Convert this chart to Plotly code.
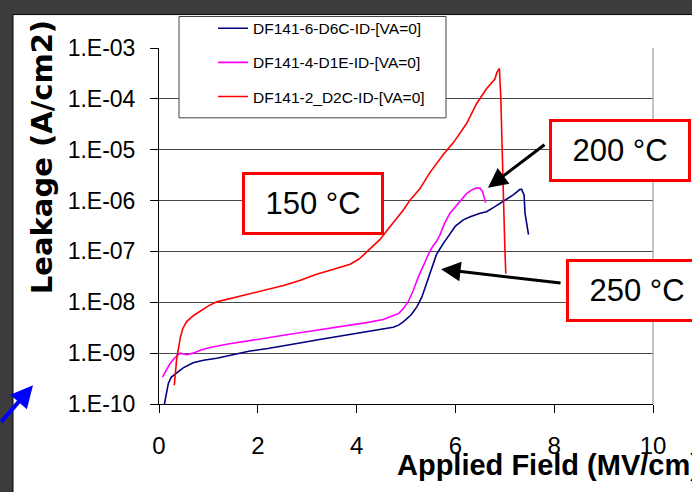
import plotly.graph_objects as go

# ---------------- data ----------------
blue_name = "DF141-6-D6C-ID-[VA=0]"
blue_x = [0.11, 0.15, 0.19, 0.25, 0.36, 0.49, 0.69, 0.9, 1.17, 1.5, 1.84, 2.2, 2.52, 2.85, 3.19,
          3.5, 3.87, 4.2, 4.54, 4.74, 4.85, 4.95, 5.1, 5.22, 5.32, 5.42, 5.52, 5.62, 5.75, 5.89,
          6.0, 6.16, 6.3, 6.5, 6.63, 6.8, 6.97, 7.17, 7.31, 7.34, 7.39, 7.41, 7.48]
blue_y = [1.0e-10, 1.78e-10, 2.57e-10, 3.39e-10, 4.17e-10, 5.13e-10, 6.46e-10, 7.24e-10, 7.94e-10,
          9.33e-10, 1.10e-9, 1.23e-9, 1.38e-9, 1.58e-9, 1.82e-9, 2.04e-9, 2.34e-9, 2.69e-9, 3.02e-9,
          3.24e-9, 3.55e-9, 4.17e-9, 5.62e-9, 8.13e-9, 1.26e-8, 2.40e-8, 5.01e-8, 8.91e-8, 1.41e-7,
          2.29e-7, 3.16e-7, 4.17e-7, 4.79e-7, 5.62e-7, 6.03e-7, 7.59e-7, 9.55e-7, 1.29e-6, 1.66e-6,
          1.66e-6, 1.29e-6, 5.62e-7, 2.14e-7]

magenta_name = "DF141-4-D1E-ID-[VA=0]"
magenta_x = [0.07, 0.15, 0.22, 0.32, 0.43, 0.56, 0.69, 0.85, 1.03, 1.4, 1.84, 2.2, 2.52, 2.85, 3.19,
             3.5, 3.87, 4.2, 4.54, 4.74, 4.85, 4.95, 5.05, 5.15, 5.25, 5.38, 5.47, 5.55, 5.62, 5.69,
             5.78, 5.89, 6.06, 6.23, 6.35, 6.43, 6.5, 6.55, 6.61]
magenta_y = [3.39e-10, 4.68e-10, 6.17e-10, 8.13e-10, 1.0e-9, 9.33e-10, 1.0e-9, 1.15e-9, 1.29e-9,
             1.51e-9, 1.74e-9, 2.0e-9, 2.24e-9, 2.51e-9, 2.82e-9, 3.16e-9, 3.47e-9, 3.98e-9, 4.57e-9,
             5.37e-9, 6.03e-9, 7.59e-9, 1.05e-8, 1.74e-8, 3.16e-8, 6.03e-8, 9.55e-8, 1.29e-7, 1.58e-7,
             2.14e-7, 3.55e-7, 5.62e-7, 8.71e-7, 1.38e-6, 1.66e-6, 1.78e-6, 1.74e-6, 1.51e-6, 9.12e-7]

red_name = "DF141-2_D2C-ID-[VA=0]"
red_x = [0.31, 0.33, 0.36, 0.40, 0.43, 0.48, 0.56, 0.7, 0.83, 1.0, 1.17, 1.5, 1.84, 2.2, 2.52, 2.85,
         3.19, 3.5, 3.87, 4.05, 4.2, 4.35, 4.47, 4.68, 4.95, 5.08, 5.28, 5.49, 5.76, 5.96, 6.23,
         6.43, 6.63, 6.80, 6.84, 6.89, 6.92, 6.96, 6.99, 7.00, 7.02]
red_y = [2.34e-10, 4.47e-10, 8.13e-10, 1.32e-9, 2.0e-9, 3.02e-9, 4.17e-9, 5.50e-9, 6.76e-9, 8.51e-9,
         1.02e-8, 1.23e-8, 1.48e-8, 1.78e-8, 2.14e-8, 2.69e-8, 3.55e-8, 4.37e-8, 5.62e-8, 7.08e-8,
         9.55e-8, 1.32e-7, 1.70e-7, 3.09e-7, 6.61e-7, 1.02e-6, 1.70e-6, 3.63e-6, 8.13e-6, 1.38e-5,
         3.31e-5, 8.13e-5, 1.58e-4, 2.45e-4, 3.31e-4, 3.98e-4, 1.02e-4, 3.31e-6, 5.62e-7, 1.29e-7,
         3.63e-8]

y_tickvals = [1e-10, 1e-9, 1e-8, 1e-7, 1e-6, 1e-5, 1e-4, 1e-3]
y_ticktext = ["1.E-10", "1.E-09", "1.E-08", "1.E-07", "1.E-06", "1.E-05", "1.E-04", "1.E-03"]
x_tickvals = [0, 2, 4, 6, 8, 10]

x_title = "Applied Field (MV/cm)"
y_title = "Leakage (A/cm2)"
temp_labels = ["150 °C", "200 °C", "250 °C"]

# ---------------- layout geometry ----------------
W, H = 692, 492
L, R, T, B = 159, 653, 42, 404


def px(p):
    return (p - L) / (R - L)


def py(p):
    return (B - p) / (B - T)


FONT = "Liberation Sans, Arial, sans-serif"

fig = go.Figure()
for name, xs, ys, col in [(blue_name, blue_x, blue_y, "#000080"),
                          (magenta_name, magenta_x, magenta_y, "#FF00FF"),
                          (red_name, red_x, red_y, "#FF0000")]:
    fig.add_trace(go.Scatter(x=xs, y=ys, mode="lines", name=name, legendgroup=name,
                             line=dict(color=col, width=1.6)))

shapes = [
    # white slide area
    dict(type="rect", xref="paper", yref="paper", x0=px(13), x1=px(700), y0=py(500), y1=py(8),
         fillcolor="white", line=dict(color="black", width=1), layer="below"),
    # right plot border
    dict(type="line", xref="paper", yref="paper", x0=1, x1=1, y0=0, y1=1,
         line=dict(color="#8a8a8a", width=1), layer="above"),
    # legend box
    dict(type="rect", xref="paper", yref="paper", x0=px(179), x1=px(446), y0=py(113), y1=py(10),
         fillcolor="white", line=dict(color="#404040", width=1), layer="above"),
]

ann = []
# axis titles
ann.append(dict(text=f"<b>{y_title}</b>", xref="paper", yref="paper", x=px(42), y=py(153),
                xanchor="center", yanchor="middle", textangle=-90, showarrow=False,
                font=dict(family="DejaVu Sans, sans-serif", size=29, color="black")))
ann.append(dict(text=f"<b>{x_title}</b>", xref="paper", yref="paper", x=px(395), y=py(466),
                xanchor="left", yanchor="middle", showarrow=False,
                font=dict(family=FONT, size=29, color="black")))

# temperature boxes
for lbl, cx, cy in [(temp_labels[0], 313, 200.5), (temp_labels[1], 620, 146), (temp_labels[2], 637, 288.5)]:
    ann.append(dict(text=lbl, xref="paper", yref="paper", x=px(cx), y=py(cy),
                    xanchor="center", yanchor="middle", showarrow=False,
                    width=136, height=57, bgcolor="white", bordercolor="#FF0000",
                    borderwidth=3, borderpad=0,
                    font=dict(family=FONT, size=31, color="black")))

# arrows (tips in data coords; log axis -> log10)
ann.append(dict(text="", x=6.66, y=-5.746, xref="x", yref="y", showarrow=True,
                ax=58, ay=-44, arrowhead=2, arrowsize=1.3, arrowwidth=3, arrowcolor="black", standoff=0))
ann.append(dict(text="", x=5.71, y=-7.351, xref="x", yref="y", showarrow=True,
                ax=121, ay=14, arrowhead=2, arrowsize=1.3, arrowwidth=3, arrowcolor="black", standoff=0))
ann.append(dict(text="", x=px(33), y=py(385), xref="paper", yref="paper", showarrow=True,
                ax=-45, ay=38, arrowhead=2, arrowsize=1.1, arrowwidth=4, arrowcolor="#0000FF", standoff=0))

fig.update_layout(
    width=W, height=H, autosize=False,
    margin=dict(l=L, r=W - R, t=T, b=H - B, pad=0),
    paper_bgcolor="#3c3c3c", plot_bgcolor="white",
    font=dict(family=FONT, color="black"),
    showlegend=True,
    legend=dict(x=px(213), y=py(5), xanchor="left", yanchor="top",
                bgcolor="rgba(0,0,0,0)", borderwidth=0, traceorder="grouped",
                tracegroupgap=11, font=dict(family=FONT, size=15.5, color="black"),
                itemwidth=30),
    shapes=shapes, annotations=ann,
)
fig.update_xaxes(range=[0, 10], tickvals=x_tickvals, showgrid=False, zeroline=False,
                 showline=True, linecolor="black", linewidth=1, ticks="outside", ticklen=8,
                 tickcolor="black", ticklabelstandoff=12,
                 tickfont=dict(family=FONT, size=24, color="black"))
fig.update_yaxes(type="log", range=[-10, -3], tickvals=y_tickvals, ticktext=y_ticktext,
                 showgrid=True, gridcolor="#4a4a4a", gridwidth=1, zeroline=False,
                 showline=True, linecolor="black", linewidth=1, ticks="outside", ticklen=8,
                 tickcolor="black", ticklabelstandoff=10,
                 tickfont=dict(family=FONT, size=23, color="black"))

fig.write_html("out.html")
